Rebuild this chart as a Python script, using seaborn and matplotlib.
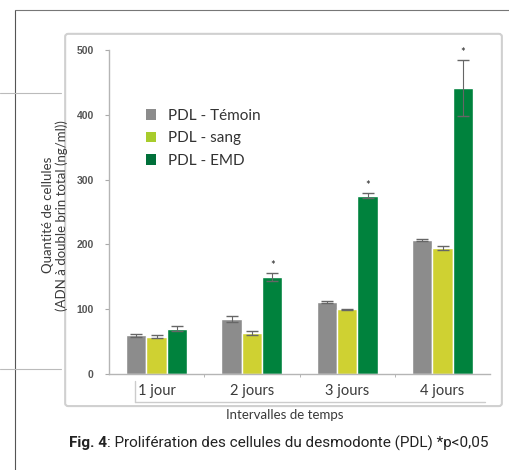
import matplotlib
matplotlib.use("Agg")
import matplotlib.pyplot as plt
from matplotlib.lines import Line2D
from matplotlib.patches import FancyBboxPatch, Patch
import pandas as pd
import seaborn as sns

days = ["1 jour", "2 jours", "3 jours", "4 jours"]
groups = ["PDL - Témoin", "PDL - sang", "PDL - EMD"]
temoin = [60, 85, 111, 207]
sang = [58, 64, 100, 194]
emd = [70, 150, 275, 441]
temoin_err = [2, 4, 2, 2]
sang_err = [2, 3, 1, 3]
emd_err = [4, 6, 4, 43]
significant = [False, True, True, True]

colors = ["#8c8c8c", "#cfd132", "#00823d"]
legend_colors = ["#8c8c8c", "#a8cc2c", "#00703a"]

df = pd.DataFrame({
    "jour": days * 3,
    "groupe": [g for g in groups for _ in days],
    "valeur": temoin + sang + emd,
})
errs = [temoin_err, sang_err, emd_err]

sns.set_style("white")
plt.rcParams["font.family"] = ["Lato", "DejaVu Sans"]

fig = plt.figure(figsize=(5.09, 4.70), dpi=100)
ax = fig.add_axes([0.214, 0.204, 0.749, 0.690])

sns.barplot(data=df, x="jour", y="valeur", hue="groupe", palette=colors,
            width=0.64, errorbar=None, legend=False, ax=ax, saturation=1)

for cont, err in zip(ax.containers, errs):
    xs = [p.get_x() + p.get_width() / 2 for p in cont.patches]
    ys = [p.get_height() for p in cont.patches]
    ax.errorbar(xs, ys, yerr=err, fmt="none", ecolor="#666666",
                elinewidth=0.8, capsize=4, capthick=1.0)

emd_cont = ax.containers[2]
for p, v, e, s in zip(emd_cont.patches, emd, emd_err, significant):
    if s:
        ax.text(p.get_x() + p.get_width() / 2, v + e + 12, "*",
                ha="center", va="center", fontsize=8, color="#222222")

ax.set_ylim(0, 500)
ax.set_xlim(-0.5, 3.5)
ax.set_yticks([0, 100, 200, 300, 400, 500])
ax.tick_params(axis="y", length=3, color="#aaaaaa", labelsize=7.5,
               labelcolor="#555555", pad=8, direction="out", left=True)
for t in ax.get_yticklabels():
    t.set_fontweight("bold")
    t.set_family(["Liberation Sans", "DejaVu Sans"])
ax.set_xticks([0.5, 1.5, 2.5], minor=True)
ax.tick_params(axis="x", which="minor", length=2, color="#aaaaaa", bottom=True)
ax.tick_params(axis="x", which="major", length=0, labelsize=10.5,
               labelcolor="#3a3a3a", pad=7)

for side in ["top", "right"]:
    ax.spines[side].set_visible(False)
for side in ["left", "bottom"]:
    ax.spines[side].set_color("#b5b5b5")
    ax.spines[side].set_linewidth(1.0)

ax.set_xlabel("")
ax.set_ylabel("")

handles = [Patch(facecolor=c, edgecolor="none") for c in legend_colors]
ax.legend(handles, groups, loc="upper left", bbox_to_anchor=(0.06, 0.86),
          frameon=False, fontsize=11, handlelength=0.7, handleheight=0.7,
          handletextpad=0.8, labelspacing=0.55, labelcolor="#333333")

# frame around the chart
fig.patches.append(FancyBboxPatch((0.128, 0.136), 0.858, 0.792,
                                  boxstyle="round,pad=0,rounding_size=0.006",
                                  transform=fig.transFigure, facecolor="none",
                                  edgecolor="#d0d0d0", linewidth=1.5))
# category band lines
fig.add_artist(Line2D([0.265, 0.953], [0.145, 0.145], color="#cccccc", lw=1))
fig.add_artist(Line2D([0.265, 0.265], [0.145, 0.19], color="#cccccc", lw=1))

# page decoration
fig.add_artist(Line2D([0.029, 0.029], [0.0, 0.979], color="#555555", lw=0.8))
fig.add_artist(Line2D([0.029, 1.0], [0.979, 0.979], color="#777777", lw=0.8))
fig.add_artist(Line2D([0.0, 0.12], [0.802, 0.802], color="#bbbbbb", lw=0.8))
fig.add_artist(Line2D([0.0, 0.12], [0.215, 0.215], color="#bbbbbb", lw=0.8))

fig.text(0.108, 0.542, "Quantité de cellules\n(ADN à double brin total (ng/ml))",
         rotation=90, ha="center", va="center", fontsize=9.5,
         color="#3a3a3a", linespacing=1.1)
fig.text(0.56, 0.117, "Intervalles de temps", ha="center", va="center",
         fontsize=9.5, color="#3a3a3a")

narrow = ["Roboto", "DejaVu Sans"]
fig_label = fig.text(0.135, 0.057, "Fig. 4", ha="left", va="center",
                     fontsize=11, fontweight="bold", family=narrow,
                     color="#222222")
fig.canvas.draw()
bb = fig_label.get_window_extent().transformed(fig.transFigure.inverted())
fig.text(bb.x1, 0.057, ": Prolifération des cellules du desmodonte (PDL) *p<0,05",
         ha="left", va="center", fontsize=11, family=narrow, color="#222222")

fig.savefig("out.png", dpi=100)
